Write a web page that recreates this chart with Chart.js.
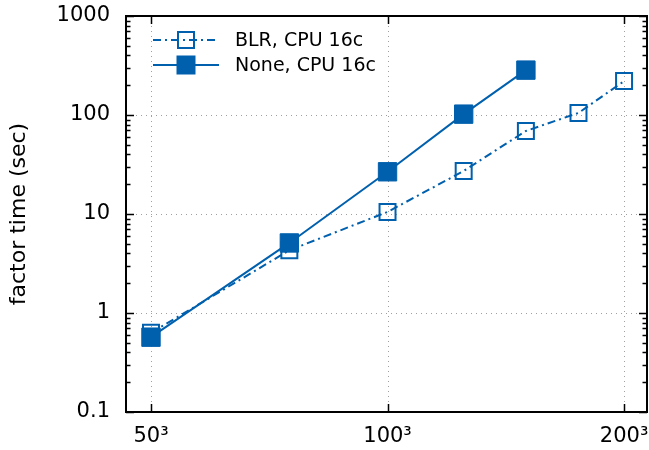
<!DOCTYPE html>
<html>
<head>
<meta charset="utf-8">
<script src="https://cdn.jsdelivr.net/npm/chart.js@4/dist/chart.umd.min.js"></script>
<style>
  html, body { margin: 0; padding: 0; background: #fff; }
  #wrap { position: relative; width: 649px; height: 450px; }
</style>
</head>
<body>
<div id="wrap"><canvas id="chart" width="649" height="450"></canvas></div>
<script>
// problem size N (matrix is N^3), factor time in seconds
const sizes = [50, 75, 100, 125, 150, 175, 200];
const blrTime = [0.63, 4.3, 10.5, 27.2, 69, 105, 220];
const noneTime = [0.57, 5.1, 26.7, 102, 284];

const xTicks = [50, 100, 200];
const xTickLabels = ['50³', '100³', '200³'];
const yTicks = [0.1, 1, 10, 100, 1000];
const yTickLabels = ['0.1', '1', '10', '100', '1000'];

const seriesNames = ['BLR, CPU 16c', 'None, CPU 16c'];

const BLUE = '#0060ad';
const FONT = '"DejaVu Sans", sans-serif';
const DASH_DOT = [8, 4, 2, 4];

// dotted grid, frame and inward tick marks, gnuplot style
const framePlugin = {
  id: 'frame',
  beforeDatasetsDraw(chart) {
    const { ctx, chartArea: a, scales } = chart;
    const x = scales.x;
    const y = scales.y;
    ctx.save();

    ctx.strokeStyle = '#a0a0a0';
    ctx.lineWidth = 1;
    ctx.setLineDash([1, 4]);
    xTicks.forEach((v) => {
      const px = Math.round(x.getPixelForValue(v)) + 0.5;
      ctx.beginPath();
      ctx.moveTo(px, a.top);
      ctx.lineTo(px, a.bottom);
      ctx.stroke();
    });
    yTicks.forEach((v) => {
      const py = Math.round(y.getPixelForValue(v)) + 0.5;
      ctx.beginPath();
      ctx.moveTo(a.left, py);
      ctx.lineTo(a.right, py);
      ctx.stroke();
    });
    ctx.setLineDash([]);

    ctx.strokeStyle = '#000';
    ctx.lineWidth = 1.5;
    // major and minor ticks on left and right
    yTicks.forEach((v, i) => {
      for (let m = 1; m <= 9; m++) {
        if (i === yTicks.length - 1 && m > 1) break;
        const py = Math.round(y.getPixelForValue(v * m)) + 0.5;
        const len = m === 1 ? 8 : 4.5;
        ctx.beginPath();
        ctx.moveTo(a.left, py);
        ctx.lineTo(a.left + len, py);
        ctx.moveTo(a.right, py);
        ctx.lineTo(a.right - len, py);
        ctx.stroke();
      }
    });
    xTicks.forEach((v) => {
      const px = Math.round(x.getPixelForValue(v)) + 0.5;
      ctx.beginPath();
      ctx.moveTo(px, a.bottom);
      ctx.lineTo(px, a.bottom - 8);
      ctx.moveTo(px, a.top);
      ctx.lineTo(px, a.top + 8);
      ctx.stroke();
    });
    ctx.lineWidth = 2;
    ctx.strokeRect(a.left, a.top, a.right - a.left, a.bottom - a.top);
    ctx.restore();
  },
};

// key in the top left corner: line sample with marker, then the name
const keyPlugin = {
  id: 'key',
  afterDraw(chart) {
    const { ctx } = chart;
    const rows = [
      { y: 40, dash: DASH_DOT, filled: false },
      { y: 65, dash: [], filled: true },
    ];
    ctx.save();
    rows.forEach((row, i) => {
      ctx.strokeStyle = BLUE;
      ctx.fillStyle = BLUE;
      ctx.lineWidth = 2;
      ctx.setLineDash(row.dash);
      ctx.beginPath();
      ctx.moveTo(153, row.y);
      ctx.lineTo(219, row.y);
      ctx.stroke();
      ctx.setLineDash([]);
      if (row.filled) {
        ctx.fillRect(186 - 9.5, row.y - 9.5, 19, 19);
      } else {
        ctx.strokeRect(186 - 8, row.y - 8, 16, 16);
      }
      ctx.fillStyle = '#000';
      ctx.font = `19px ${FONT}`;
      ctx.textBaseline = 'middle';
      ctx.textAlign = 'left';
      ctx.fillText(seriesNames[i], 235, row.y + 1);
    });
    ctx.restore();
  },
};

const config = {
  type: 'line',
  data: {
    datasets: [
      {
        label: seriesNames[1],
        data: sizes.slice(0, noneTime.length).map((n, i) => ({ x: n, y: noneTime[i] })),
        borderColor: BLUE,
        borderWidth: 2,
        pointStyle: 'rect',
        pointRadius: 13,
        pointBorderWidth: 1,
        pointBackgroundColor: BLUE,
        pointBorderColor: BLUE,
        order: 0,
      },
      {
        label: seriesNames[0],
        data: sizes.map((n, i) => ({ x: n, y: blrTime[i] })),
        borderColor: BLUE,
        borderWidth: 2,
        borderDash: DASH_DOT,
        pointStyle: 'rect',
        pointRadius: 11.3,
        pointBorderWidth: 2,
        pointBackgroundColor: 'rgba(0,0,0,0)',
        pointBorderColor: BLUE,
        order: 1,
      },
    ],
  },
  options: {
    responsive: false,
    animation: false,
    devicePixelRatio: 1,
    // big markers would otherwise add padding round the plot
    layout: { autoPadding: false, padding: { left: 0, right: 2, top: 16, bottom: 0 } },
    plugins: {
      legend: { display: false },
      tooltip: { enabled: false },
    },
    scales: {
      x: {
        type: 'logarithmic',
        min: 46.47,
        max: 213.9,
        grid: { display: false, drawTicks: false },
        border: { display: false },
        afterBuildTicks: (scale) => {
          scale.ticks = xTicks.map((v) => ({ value: v }));
        },
        afterFit: (scale) => {
          scale.height = 38;
          scale.paddingLeft = 0;
          scale.paddingRight = 0;
        },
        ticks: {
          autoSkip: false,
          maxRotation: 0,
          padding: 12,
          color: '#000',
          font: { family: FONT, size: 21 },
          callback: (value) => xTickLabels[xTicks.indexOf(value)],
        },
      },
      y: {
        type: 'logarithmic',
        min: 0.1,
        max: 1000,
        grid: { display: false, drawTicks: false },
        border: { display: false },
        afterBuildTicks: (scale) => {
          scale.ticks = yTicks.map((v) => ({ value: v }));
        },
        afterFit: (scale) => {
          scale.width = 126;
          scale.paddingTop = 0;
          scale.paddingBottom = 0;
        },
        ticks: {
          padding: 16,
          color: '#000',
          font: { family: FONT, size: 21 },
          callback: (value) => yTickLabels[yTicks.indexOf(value)],
        },
        title: {
          display: true,
          text: 'factor time (sec)',
          color: '#000',
          padding: { top: 6, bottom: 0 },
          font: { family: FONT, size: 22 },
        },
      },
    },
  },
  plugins: [framePlugin, keyPlugin],
};

const chart = new Chart(document.getElementById('chart'), config);
</script>
</body>
</html>
